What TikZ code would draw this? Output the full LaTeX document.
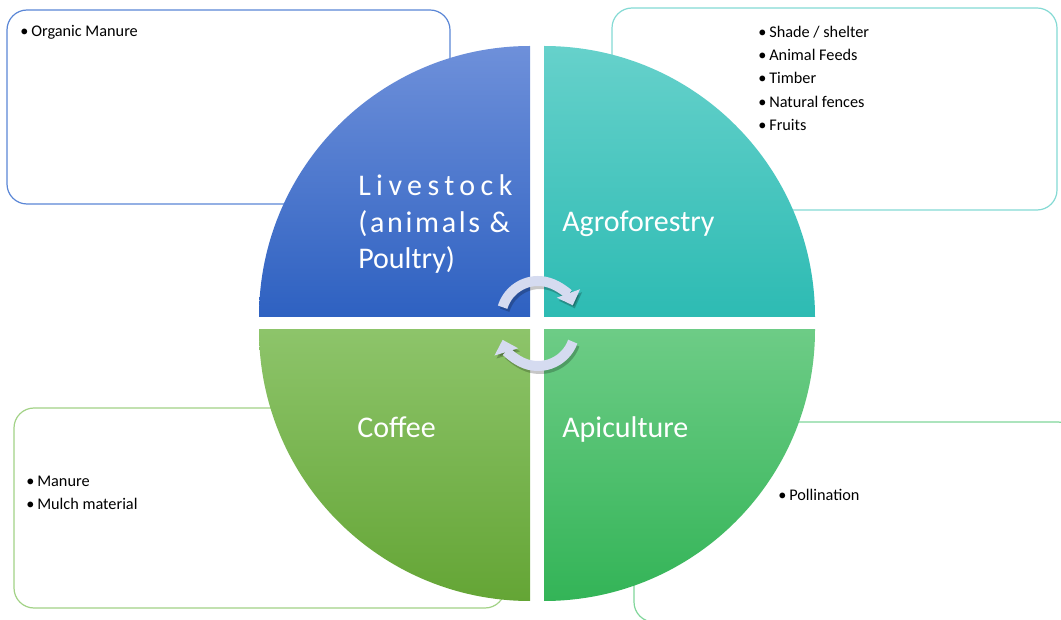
\documentclass[tikz,border=0pt]{standalone}
\usepackage{fontspec}
\setmainfont{Carlito}
\usetikzlibrary{arrows.meta}
\definecolor{tlA}{HTML}{6E90DA}\definecolor{tlB}{HTML}{2E61C1}
\definecolor{trA}{HTML}{66D1CB}\definecolor{trB}{HTML}{2DBBB3}
\definecolor{blA}{HTML}{8DC46A}\definecolor{blB}{HTML}{64A535}
\definecolor{brA}{HTML}{6DCC86}\definecolor{brB}{HTML}{33B457}
\definecolor{tlLine}{HTML}{5A86D6}\definecolor{trLine}{HTML}{84DAD4}
\definecolor{blLine}{HTML}{A2D286}\definecolor{brLine}{HTML}{80D69A}
\definecolor{arrCol}{HTML}{D5DBF0}
\tikzset{
  infobox/.style={draw, line width=0.9pt, fill=white, rounded corners=15pt},
  quadlabel/.style={text=white, font=\fontsize{22.5}{27.4}\selectfont, anchor=base west, inner sep=0pt, align=left},
  listtext/.style={text=black, font=\fontsize{12.2}{17.5}\selectfont, anchor=base west, inner sep=0pt, align=left},
  cyclearrow/.style={line width=7.5pt, draw=arrCol, -{Triangle[length=9.5pt,width=18pt]}},
  cycleshadow/.style={line width=7.5pt, draw=black, opacity=0.22, -{Triangle[length=9.5pt,width=18pt]}}
}
\newcommand{\bul}{\textbullet\kern2.2pt}
\begin{document}
\begin{tikzpicture}[x=0.75pt,y=-0.75pt]
\useasboundingbox (0,0) rectangle (1061,620);
\begin{scope}
\clip (0,0) rectangle (1061,620);
% info boxes
\draw[infobox, draw=tlLine] (7,10) rectangle (450,204);
\draw[infobox, draw=trLine] (612,8) rectangle (1057,210);
\draw[infobox, draw=blLine] (14,408) rectangle (505,608);
\draw[infobox, draw=brLine] (634,422) rectangle (1078,622);
\end{scope}
% quadrants
\begin{scope}
\clip (530,317) circle (271);
\shade[top color=tlA, bottom color=tlB] (259,46) rectangle (530,317);
\end{scope}
\begin{scope}
\clip (544,317) circle (271);
\shade[top color=trA, bottom color=trB] (544,46) rectangle (815,317);
\end{scope}
\begin{scope}
\clip (530,330) circle (271);
\shade[top color=blA, bottom color=blB] (259,330) rectangle (530,601);
\end{scope}
\begin{scope}
\clip (544,330) circle (271);
\shade[top color=brA, bottom color=brB] (544,330) rectangle (815,601);
\end{scope}
% quadrant labels (base = last line)
\node[quadlabel] (live) at (358,269) {{\addfontfeature{LetterSpace=18}Livestock}\\{\addfontfeature{LetterSpace=9}(animals \&}\\Poultry)};
\node[quadlabel] (agro) at (562,232) {Agroforestry};
\node[quadlabel] (coffee) at (357,437) {Coffee};
\node[quadlabel] (api) at (562,437) {Apiculture};
% list texts (base = last line)
\node[listtext] (l1) at (20,36.5) {\bul Organic Manure};
\node[listtext] (l2) at (758,130.5) {\bul Shade / shelter\\\bul Animal Feeds\\\bul Timber\\\bul Natural fences\\\bul Fruits};
\node[listtext] (l3) at (26,509.5) {\bul Manure\\\bul Mulch material};
\node[listtext] (l4) at (778,500.5) {\bul Pollination};
% cycle arrows
\coordinate (ctop) at (538,318);
\coordinate (cbot) at (538,329);
\coordinate (ctops) at (540,321);
\coordinate (cbots) at (540,332);
\draw[cycleshadow] (ctops) ++(197:37) arc[start angle=197, end angle=340, radius=37];
\draw[cycleshadow] (cbots) ++(20:37) arc[start angle=20, end angle=163, radius=37];
\draw[cyclearrow] (ctop) ++(197:37) arc[start angle=197, end angle=340, radius=37];
\draw[cyclearrow] (cbot) ++(20:37) arc[start angle=20, end angle=163, radius=37];
\end{tikzpicture}
\end{document}
